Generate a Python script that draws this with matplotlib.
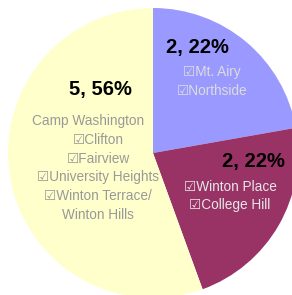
import matplotlib
matplotlib.use('Agg')
import matplotlib.pyplot as plt

# --- dados ---
counts = [2, 2, 5]
slice_colors = ['#9999FF', '#993366', '#FFFFCC']
value_labels = ['2, 22%', '2, 22%', '5, 56%']
neigh_blue = ['\u2611Mt. Airy', '\u2611Northside']
neigh_red = ['\u2611Winton Place', '\u2611College Hill']
neigh_yellow = ['Camp Washington', '\u2611Clifton', '\u2611Fairview',
                '\u2611University Heights', '\u2611Winton Terrace/', 'Winton Hills']

FONT = ['Liberation Sans', 'DejaVu Sans']

W, H = 292, 295
CX, CY, R = 153, 153, 145


def px(x, y):
    # pixel (origem no topo) -> coordenadas de dados
    return (x - CX) / R, (CY - y) / R


fig = plt.figure(figsize=(W / 100, H / 100), dpi=100)
ax = fig.add_axes([0, 0, 1, 1])
ax.pie(counts, colors=slice_colors, startangle=90, counterclock=False,
       radius=1, wedgeprops=dict(linewidth=0))
ax.set_xlim(-CX / R, (W - CX) / R)
ax.set_ylim((CY - H) / R, CY / R)
ax.set_aspect('equal')
ax.axis('off')

big = dict(fontsize=14.5, fontweight='bold', color='black', ha='center', va='center', family=FONT)
small = dict(fontsize=9.8, ha='center', va='center', family=FONT)

# azul
ax.text(*px(197, 47), value_labels[0], **big)
for i, t in enumerate(neigh_blue):
    ax.text(*px(212, 72 + i * 18.5), t, color='#DCDCDC', **small)

# vinho
ax.text(*px(253, 162), value_labels[1], **big)
for i, t in enumerate(neigh_red):
    ax.text(*px(230, 187 + i * 18.5), t, color='#E6E6E6', **small)

# amarelo
ax.text(*px(100, 90), value_labels[2], **big)
for i, t in enumerate(neigh_yellow):
    x = 88 if i == 0 else 98
    ax.text(*px(x, 121 + i * 18.8), t, color='#999999', **small)

fig.savefig('out.png', dpi=100, facecolor='white')
